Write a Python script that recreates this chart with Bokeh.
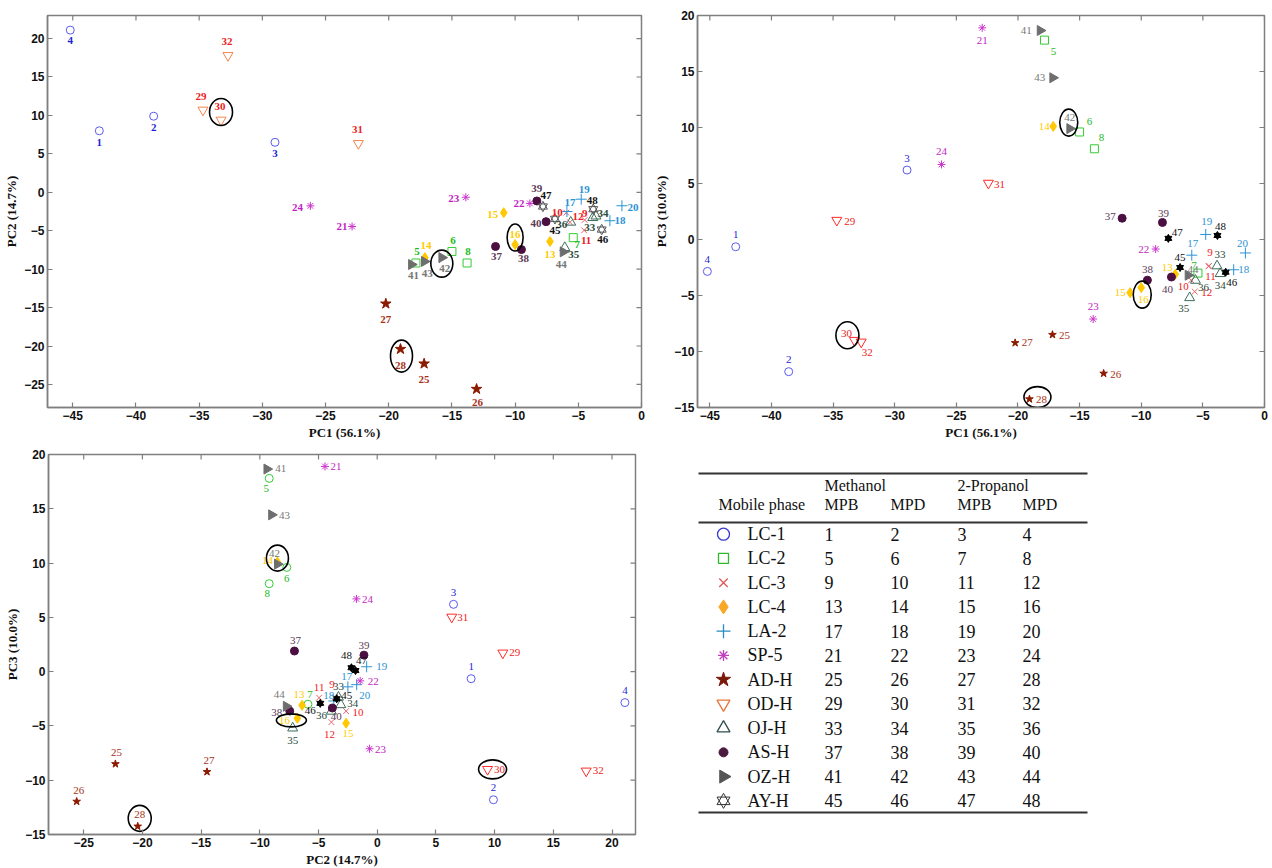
import numpy as np
from bokeh.plotting import figure
from bokeh.layouts import row, column
from bokeh.models import ColumnDataSource, FixedTicker, Range1d
from bokeh.core.properties import value
from bokeh.embed import file_html
from bokeh.resources import INLINE

# ---------------- data ----------------
sample_ids = list(range(1, 49))
pc1 = [-42.9, -38.6, -29.0, -45.2, -17.85, -15.0, -5.4, -13.8,
       -4.5, -5.95, -4.54, -5.66, -7.24, -17.14, -10.9, -10.0,
       -5.9, -2.5, -4.77, -1.55, -22.9, -8.83, -13.9, -26.2,
       -17.2, -13.05, -20.23, -19.07, -34.7, -33.27, -22.4, -32.72,
       -3.85, -3.6, -6.07, -5.6, -11.55, -9.5, -8.28, -7.55,
       -18.2, -15.8, -17.18, -6.2, -6.85, -3.15, -7.8, -3.82]
pc2 = [8.0, 9.9, 6.5, 21.1, -9.2, -7.7, -5.9, -9.2,
       -3.6, -2.65, -4.95, -3.9, -6.4, -8.5, -2.65, -6.8,
       -2.5, -3.7, -0.9, -1.75, -4.45, -1.45, -0.65, -1.77,
       -22.3, -25.6, -14.5, -20.4, 10.7, 9.4, 6.35, 17.8,
       -3.3, -3.1, -7.2, -3.9, -7.05, -7.45, -1.13, -3.82,
       -9.4, -8.5, -9.0, -7.75, -3.45, -4.85, -1.85, -2.2]
pc3 = [-0.65, -11.8, 6.2, -2.85, 17.8, 9.6, -3.0, 8.1,
       -2.35, -3.64, -2.4, -4.65, -3.1, 10.1, -4.75, -4.3,
       -1.4, -2.7, 0.45, -1.2, 18.9, -0.85, -7.1, 6.7,
       -8.5, -11.96, -9.23, -14.25, 1.72, -9.0, 5.03, -9.15,
       -2.36, -3.05, -5.2, -3.65, 1.9, -3.63, 1.52, -3.35,
       18.66, 9.9, 14.44, -3.19, -2.5, -2.92, 0.1, 0.36]
phases = ["LC-1", "LC-2", "LC-3", "LC-4", "LA-2", "SP-5",
          "AD-H", "OD-H", "OJ-H", "AS-H", "OZ-H", "AY-H"]
meoh_mpb = sample_ids[0::4]
meoh_mpd = sample_ids[1::4]
ipa_mpb = sample_ids[2::4]
ipa_mpd = sample_ids[3::4]
axis_titles = {"PC1": "PC1 (56.1%)", "PC2": "PC2 (14.7%)", "PC3": "PC3 (10.0%)"}
circled = [30, 16, 42, 28]

# ---------------- styles ----------------
SERIF = "Liberation Serif"
SANS = "Liberation Sans"
GRAY = "#7f7f7f"

# marker, marker colour, filled, label colour, size
GSTYLE = [
    ("circle", "#5a5af0", False, "#1f1fd6", 8),
    ("square", "#33cc33", False, "#22bb22", 8),
    ("x", "#e8636b", False, "#ee1c24", 8),
    ("diamond", "#ffc800", True, "#ffcc00", 10),
    ("cross", "#2a93d5", False, "#2a93d5", 11),
    ("asterisk", "#cc33cc", False, "#c21fc2", 8),
    ("star", "#8b1a00", True, "#a83218", 11),
    ("inverted_triangle", "#f5844a", False, "#ee1c24", 10),
    ("triangle", "#3c6e5a", False, "#2d4d3d", 10),
    ("circle", "#4b0f42", True, "#5b3a57", 8),
    ("triangle", "#6e6e6e", True, "#777777", 10),
    ("hexagram", "#555555", False, "#111111", 9),
]

OFF1 = {1: (0, 12), 2: (0, 11), 3: (0, 11), 4: (0, 10), 5: (1, -11), 6: (1, -11), 7: (4, 7), 8: (1, -11),
        9: (0, -6), 10: (-9, 0), 11: (2, 10), 12: (8, -6), 13: (0, 13), 14: (1, -12), 15: (-11, 2), 16: (0, -10),
        17: (3, -9), 18: (10, 0), 19: (3, -10), 20: (11, 2), 21: (-10, 0), 22: (-11, 0), 23: (-12, 1), 24: (-13, 2),
        25: (0, 16), 26: (1, 13), 27: (0, 16), 28: (0, 16), 29: (-2, -14), 30: (-1, -14), 31: (-1, -14), 32: (-1, -14),
        33: (-3, 10), 34: (7, -3), 35: (9, 7), 36: (-9, 2), 37: (1, 10), 38: (2, 9), 39: (0, -12), 40: (-10, 2),
        41: (2, 11), 42: (3, 11), 43: (3, 12), 44: (-2, 13), 45: (0, 12), 46: (1, 10), 47: (3, -11), 48: (-1, -9)}
OFF2 = {1: (0, -12), 2: (0, -12), 3: (0, -12), 4: (0, -12), 5: (9, 11), 6: (10, -10), 7: (-4, -8), 8: (7, -11),
        9: (1, -13), 10: (-8, 6), 11: (2, 10), 12: (12, 1), 13: (-8, -7), 14: (-9, 0), 15: (-10, 0), 16: (2, 12),
        17: (1, -12), 18: (10, 0), 19: (1, -13), 20: (-3, -9), 21: (0, 13), 22: (-12, 0), 23: (0, -13), 24: (0, -13),
        25: (12, 1), 26: (12, 1), 27: (12, 0), 28: (12, 0), 29: (13, 1), 30: (-8, -7), 31: (11, 1), 32: (6, 11),
        33: (3, -11), 34: (0, 12), 35: (-6, 11), 36: (8, 7), 37: (-12, -2), 38: (0, -11), 39: (1, -9), 40: (-4, 12),
        41: (-14, 0), 42: (0, -11), 43: (-13, 0), 44: (5, -6), 45: (0, -10), 46: (6, 10), 47: (9, -6), 48: (3, -9)}
OFF3 = {1: (0, -12), 2: (0, -12), 3: (0, -12), 4: (0, -12), 5: (-3, 10), 6: (0, 11), 7: (2, -10), 8: (-2, 10),
        9: (-3, -13), 10: (12, 1), 11: (0, -10), 12: (-2, 12), 13: (-3, -11), 14: (-10, -1), 15: (2, 10), 16: (-13, 2),
        17: (-1, -10), 18: (-5, -5), 19: (15, 0), 20: (8, 11), 21: (11, 0), 22: (13, 1), 23: (11, 1), 24: (11, 1),
        25: (1, -11), 26: (2, -11), 27: (2, -11), 28: (2, -12), 29: (12, 0), 30: (12, 0), 31: (11, 0), 32: (12, 0),
        33: (0, -11), 34: (12, -1), 35: (0, 12), 36: (-10, 4), 37: (1, -11), 38: (-13, 1), 39: (0, -10), 40: (4, 8),
        41: (14, -1), 42: (-3, -11), 43: (13, 1), 44: (-7, -12), 45: (10, -3), 46: (-10, 7), 47: (6, -10), 48: (-5, -12)}

# ellipse: id -> (dx, dy, w, h) in screen px
ELL1 = {30: (0, -8, 23, 27), 16: (0, -7, 16, 27), 42: (0, 6, 22, 27), 28: (1, 7, 22, 32)}
ELL2 = {30: (-7, -5, 23, 27), 16: (1, 7, 18, 27), 42: (-1, -6, 18, 27), 28: (8, -2, 27, 21)}
ELL3 = {30: (5, 0, 28, 19), 16: (-6, 2, 30, 13), 42: (0, -6, 22, 26), 28: (2, -8, 23, 26)}


def style_axis(ax, ticks):
    ax.ticker = FixedTicker(ticks=ticks)
    ax.major_tick_in = 5
    ax.major_tick_out = 0
    ax.minor_tick_line_color = None
    ax.axis_line_color = GRAY
    ax.axis_line_width = 1.5
    ax.major_tick_line_color = GRAY
    ax.major_tick_line_width = 1.2
    ax.major_label_text_font = SANS
    ax.major_label_text_font_style = "bold"
    ax.major_label_text_font_size = "12px"
    ax.major_label_text_color = "#111111"
    ax.major_label_standoff = 3
    ax.axis_label_text_font = SERIF
    ax.axis_label_text_font_style = "bold"
    ax.axis_label_text_font_size = "13px"
    ax.axis_label_text_color = "#111111"
    ax.axis_label_standoff = 2


def make_plot(xv, yv, xr, yr, xt, yt, fw, fh, borders, xname, yname, plot_no, offs, ells):
    bl, br, bt, bb = borders
    p = figure(frame_width=fw, frame_height=fh, x_range=Range1d(*xr), y_range=Range1d(*yr),
               toolbar_location=None, output_backend="svg",
               min_border_left=bl, min_border_right=br, min_border_top=bt, min_border_bottom=bb)
    p.xgrid.grid_line_color = None
    p.ygrid.grid_line_color = None
    p.outline_line_color = GRAY
    p.outline_line_width = 1.5
    p.background_fill_color = "white"
    p.border_fill_color = "white"
    style_axis(p.xaxis[0], xt)
    style_axis(p.yaxis[0], yt)
    p.xaxis[0].axis_label = axis_titles[xname]
    p.yaxis[0].axis_label = axis_titles[yname]

    # inward ticks on the top and right frame edges
    p.ray(x=xt, y=[yr[1]] * len(xt), length=5, length_units="screen", angle=-np.pi / 2,
          line_color=GRAY, line_width=1.2)
    p.ray(x=[xr[1]] * len(yt), y=yt, length=5, length_units="screen", angle=np.pi,
          line_color=GRAY, line_width=1.2)

    xv = np.asarray(xv)
    yv = np.asarray(yv)
    for g, (mk, col, filled, lcol, size) in enumerate(GSTYLE):
        idx = slice(4 * g, 4 * g + 4)
        src = ColumnDataSource(dict(x=xv[idx], y=yv[idx]))
        if plot_no == 3 and phases[g] == "LC-2":
            mk = "circle"
        if plot_no != 1 and phases[g] == "OD-H":
            col = "#ff2a2a"
        if plot_no != 1 and phases[g] == "AD-H":
            size = 8
        if plot_no != 1 and phases[g] == "AY-H":
            col, filled, size = "#000000", True, 7
        fill = col if filled else None
        if mk == "hexagram":
            for m in ("triangle", "inverted_triangle"):
                p.scatter("x", "y", source=src, marker=m, size=size, line_color=col,
                          fill_color=fill, line_width=1)
        elif phases[g] == "OZ-H":
            p.scatter("x", "y", source=src, marker="triangle", angle=-np.pi / 2, size=size,
                      line_color=col, fill_color=fill, line_width=1)
        else:
            p.scatter("x", "y", source=src, marker=mk, size=size, line_color=col,
                      fill_color=fill, line_width=1)

    lab = ColumnDataSource(dict(
        x=xv, y=yv, t=[str(i) for i in sample_ids],
        c=[GSTYLE[(i - 1) // 4][3] for i in sample_ids],
        xo=[offs[i][0] for i in sample_ids],
        yo=[offs[i][1] for i in sample_ids]))
    p.text("x", "y", text="t", source=lab, x_offset="xo", y_offset="yo", text_color="c",
           text_font=value(SERIF), text_font_size="11px",
           text_font_style="bold" if plot_no == 1 else "normal",
           text_align="center", text_baseline="middle")

    sx = fw / (xr[1] - xr[0])
    sy = fh / (yr[1] - yr[0])
    ex, ey, ew, eh = [], [], [], []
    for i in circled:
        dx, dy, w, h = ells[i]
        ex.append(xv[i - 1] + dx / sx)
        ey.append(yv[i - 1] - dy / sy)
        ew.append(w)
        eh.append(h)
    p.ellipse(x=ex, y=ey, width=ew, height=eh, width_units="screen", height_units="screen",
              fill_color=None, line_color="black", line_width=1.6)
    return p


p1 = make_plot(pc1, pc2, (-47, 0), (-28, 23), list(range(-45, 1, 5)), list(range(-25, 21, 5)),
               594, 392, (47, 8, 14, 36), "PC1", "PC2", 1, OFF1, ELL1)
p2 = make_plot(pc1, pc3, (-46, 0), (-15, 20), list(range(-45, 1, 5)), list(range(-15, 21, 5)),
               567, 392, (48, 6, 15, 35), "PC1", "PC3", 2, OFF2, ELL2)
p3 = make_plot(pc2, pc3, (-28, 22), (-15, 20), list(range(-25, 21, 5)), list(range(-15, 21, 5)),
               587, 380, (48, 5, 12, 34), "PC2", "PC3", 3, OFF3, ELL3)

# ---------------- legend table ----------------
TX0, TX1, TY0, TY1 = 640, 1270, 442, 868
pt = figure(frame_width=TX1 - TX0, frame_height=TY1 - TY0, x_range=Range1d(TX0, TX1),
            y_range=Range1d(TY1, TY0), x_axis_location=None, y_axis_location=None,
            toolbar_location=None, output_backend="svg", min_border=0)
pt.xgrid.grid_line_color = None
pt.ygrid.grid_line_color = None
pt.outline_line_color = None

pt.segment(x0=[698, 698, 698], y0=[461, 510, 800], x1=[1087, 1087, 1087], y1=[461, 510, 800],
           line_color="#333333", line_width=1.8)
col_x = [824, 890, 957, 1022]
pt.text(x=[718] + col_x, y=[492] * 5, text=["Mobile phase", "MPB", "MPD", "MPB", "MPD"],
        text_font=value(SERIF), text_font_size="16px", text_color="#111111",
        text_align="left", text_baseline="middle")
pt.text(x=[col_x[0], col_x[2]], y=[473, 473], text=["Methanol", "2-Propanol"],
        text_font=value(SERIF), text_font_size="16px", text_color="#111111",
        text_align="left", text_baseline="middle")

TSTYLE = [
    ("circle", "#3a3ad0", False, 12),
    ("square", "#2eb82e", False, 10),
    ("x", "#e05555", False, 12),
    ("diamond", "#f9a825", True, 14),
    ("cross", "#2a8bbf", False, 14),
    ("asterisk", "#c040c0", False, 11),
    ("star", "#7b1a0a", True, 15),
    ("inverted_triangle", "#e8763a", False, 13),
    ("triangle", "#2f4f4f", False, 13),
    ("circle", "#4a1a40", True, 9),
    ("triangle", "#555555", True, 13),
    ("hexagram", "#333333", False, 13),
]
row_y = [521.7 + 24.24 * k for k in range(len(phases))]
for k, (mk, col, filled, size) in enumerate(TSTYLE):
    fill = col if filled else None
    if mk == "hexagram":
        for m in ("triangle", "inverted_triangle"):
            pt.scatter(x=[723], y=[row_y[k]], marker=m, size=size, line_color=col, fill_color=fill, line_width=1)
    elif phases[k] == "OZ-H":
        pt.scatter(x=[723], y=[row_y[k]], marker="triangle", angle=-np.pi / 2, size=size,
                   line_color=col, fill_color=fill, line_width=1)
    else:
        pt.scatter(x=[723], y=[row_y[k]], marker=mk, size=size, line_color=col, fill_color=fill,
                   line_width=1.3 if not filled else 1)

cells_x, cells_y, cells_t = [], [], []
for k in range(len(phases)):
    vals = [phases[k], meoh_mpb[k], meoh_mpd[k], ipa_mpb[k], ipa_mpd[k]]
    for cx, v in zip([747] + col_x, vals):
        cells_x.append(cx)
        cells_y.append(row_y[k])
        cells_t.append(str(v))
pt.text(x=cells_x, y=cells_y, text=cells_t, text_font=value(SERIF), text_font_size="18px",
        text_color="#111111", text_align="left", text_baseline="middle")

layout = column(row(p1, p2), row(p3, pt))
open("out.html", "w").write(file_html(layout, INLINE, title="PCA score plots"))
